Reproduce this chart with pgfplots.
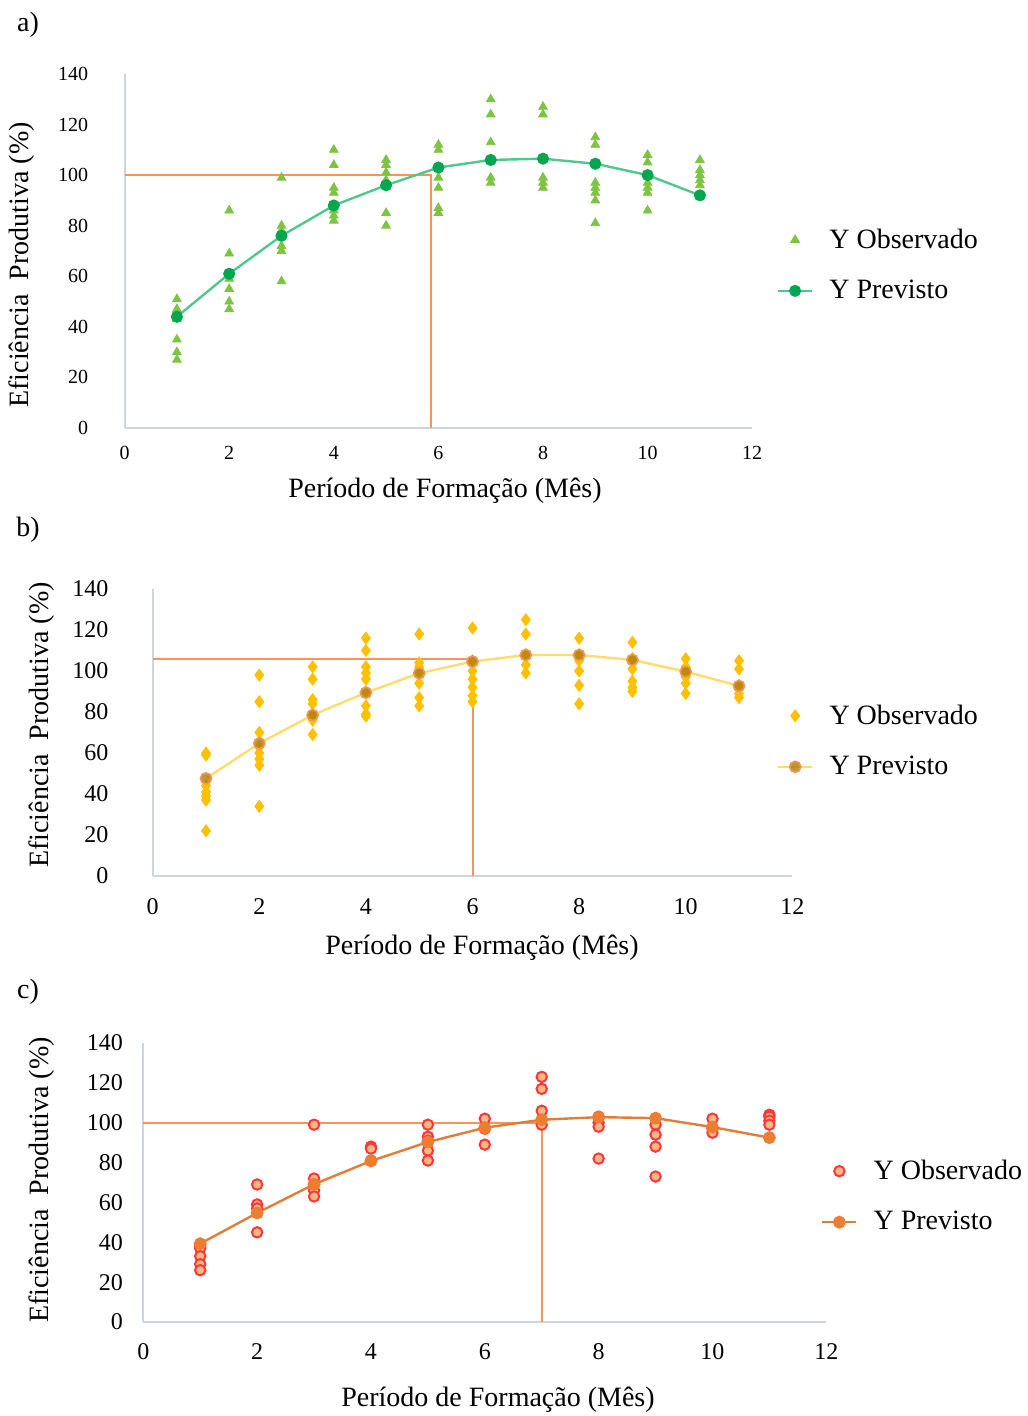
\documentclass[border=0pt]{standalone}
\usepackage{pgfplots}
\pgfplotsset{compat=1.18}
\usepackage{fontspec}
\setmainfont{Liberation Serif}
\definecolor{axgray}{RGB}{205,212,226}
\definecolor{refor}{RGB}{242,150,95}
\definecolor{obsgreen}{RGB}{125,196,66}
\definecolor{predline}{RGB}{80,200,140}
\definecolor{predgreen}{RGB}{0,166,80}
\definecolor{gold}{RGB}{255,192,0}
\definecolor{lightgold}{RGB}{255,220,110}
\definecolor{darkgold}{RGB}{175,125,10}
\definecolor{redc}{RGB}{255,55,55}
\definecolor{fillc}{RGB}{248,185,135}
\definecolor{orc}{RGB}{225,125,55}
\definecolor{orfill}{RGB}{237,125,49}
\pgfplotsset{
  panel/.style={scale only axis, xmin=0, xmax=12, ymin=0, ymax=140,
    xtick={0,2,...,12}, ytick={0,20,...,140},
    axis x line=bottom, axis y line=left,
    axis line style={-, draw=axgray, line width=1pt},
    major tick length=0pt, clip=false,
    /pgf/number format/assume math mode=true,
    legend cell align=left,
    legend style={draw=none, fill=none, font=\fontsize{14}{16}\selectfont, row sep=10.5pt,
      /tikz/every odd column/.append style={column sep=6pt}},
  }
}
\begin{document}
\begin{tikzpicture}
\useasboundingbox (0pt,0pt) rectangle (513.5pt,708pt);
% ---------------- a)
\begin{axis}[panel, at={(62.3pt,494pt)}, anchor=south west, width=313.8pt, height=177pt,
  yticklabel style={font=\fontsize{10}{12}\selectfont, anchor=east, inner sep=0pt, xshift=-18pt},
  xticklabel style={font=\fontsize{10}{12}\selectfont, anchor=north, inner sep=0pt, yshift=-9pt},
  legend style={at={(axis description cs:1.029,0.46)}, anchor=west}]
\addplot[refor, line width=1pt, forget plot] coordinates {(0,100) (5.85,100) (5.85,0)};
\addplot[only marks, mark=triangle*, mark size=2.5pt, color=obsgreen] coordinates {
(1,51)(1,47)(1,43)(1,35)(1,30)(1,27)
(2,86)(2,69)(2,59)(2,55)(2,50)(2,47)
(3,99)(3,80)(3,78)(3,72)(3,70)(3,58)
(4,110)(4,104)(4,95)(4,93)(4,86)(4,84)(4,82)
(5,106)(5,104)(5,101)(5,98)(5,85)(5,80)
(6,112)(6,110)(6,99)(6,95)(6,87)(6,85)
(7,130)(7,124)(7,113)(7,106)(7,99)(7,97)
(8,127)(8,124)(8,99)(8,97)(8,95)
(9,115)(9,112)(9,97)(9,95)(9,93)(9,90)(9,81)
(10,108)(10,105)(10,97)(10,95)(10,93)(10,86)
(11,106)(11,102)(11,100)(11,98)(11,96)(11,92)};
\addlegendentry{Y Observado}
\addplot[predline, line width=1.2pt, mark=*, mark size=2.4pt, mark options={draw=predgreen, fill=predgreen}] coordinates {
(1,44)(2,61)(3,76)(4,88)(5,96)(6,103)(7,106)(8,106.5)(9,104.5)(10,100)(11,92)};
\addlegendentry{Y Previsto}
\end{axis}
% ---------------- b)
\begin{axis}[panel, at={(76.35pt,270pt)}, anchor=south west, width=319.8pt, height=143.5pt,
  yticklabel style={font=\fontsize{12}{14}\selectfont, anchor=east, inner sep=0pt, xshift=-22pt},
  xticklabel style={font=\fontsize{12}{14}\selectfont, anchor=north, inner sep=0pt, yshift=-11pt},
  legend style={at={(axis description cs:0.966,0.47)}, anchor=west}]
\addplot[refor, line width=1pt, forget plot] coordinates {(0,105.7) (6,105.7) (6,0)};
\addplot[only marks, mark=diamond*, mark size=3pt, color=gold] coordinates {
(1,60)(1,59)(1,44)(1,41)(1,39)(1,37)(1,22)
(2,98)(2,85)(2,70)(2,63)(2,60)(2,57)(2,54)(2,34)
(3,102)(3,96)(3,86)(3,84)(3,79)(3,78)(3,76)(3,69)
(4,116)(4,110)(4,102)(4,99)(4,96)(4,90)(4,83)(4,79)(4,78)
(5,118)(5,104)(5,102)(5,100)(5,94)(5,87)(5,83)
(6,121)(6,105)(6,100)(6,96)(6,92)(6,88)(6,85)
(7,125)(7,118)(7,108)(7,103)(7,99)
(8,116)(8,108)(8,105)(8,100)(8,93)(8,84)
(9,114)(9,106)(9,101)(9,95)(9,92)(9,90)
(10,106)(10,102)(10,99)(10,97)(10,94)(10,89)
(11,105)(11,101)(11,93)(11,89)(11,87)};
\addlegendentry{Y Observado}
\addplot[lightgold, line width=1.2pt, mark=*, mark size=2.8pt, mark options={draw=refor, fill=darkgold, fill opacity=0.8, line width=0.8pt}] coordinates {
(1,47.6)(2,64.7)(3,78.5)(4,89.4)(5,98.9)(6,104.6)(7,107.8)(8,107.8)(9,105.4)(10,99.7)(11,92.7)};
\addlegendentry{Y Previsto}
\end{axis}
% ---------------- c)
\begin{axis}[panel, at={(71.65pt,47pt)}, anchor=south west, width=341.5pt, height=139.5pt,
  yticklabel style={font=\fontsize{12}{14}\selectfont, anchor=east, inner sep=0pt, xshift=-10pt},
  xticklabel style={font=\fontsize{12}{14}\selectfont, anchor=north, inner sep=0pt, yshift=-10.5pt},
  legend style={at={(axis description cs:0.983,0.45)}, anchor=west}]
\addplot[refor, line width=1pt, forget plot] coordinates {(0,100) (7,100) (7,0)};
\addplot[only marks, mark=*, mark size=2.6pt, mark options={draw=redc, fill=fillc, line width=1pt}] coordinates {
(1,38)(1,37)(1,33)(1,29)(1,26)
(2,69)(2,59)(2,57)(2,45)
(3,99)(3,72)(3,69)(3,66)(3,63)
(4,88)(4,87)(4,81)
(5,99)(5,93)(5,91)(5,86)(5,81)
(6,102)(6,97)(6,89)
(7,123)(7,117)(7,106)(7,99)
(8,103)(8,100)(8,98)(8,82)
(9,99)(9,94)(9,88)(9,73)
(10,102)(10,97)(10,95)
(11,104)(11,103)(11,101)(11,99)};
\addlegendentry{Y Observado}
\addplot[orc, line width=1.2pt, mark=*, mark size=2.6pt, mark options={draw=orfill, fill=orfill}] coordinates {
(1,39.3)(2,54.7)(3,69.1)(4,80.8)(5,90.3)(6,97.5)(7,101.5)(8,102.8)(9,102.3)(10,97.8)(11,92.5)};
\addlegendentry{Y Previsto}
\end{axis}
% ---------------- labels
\node[font=\fontsize{14}{16}\selectfont] at (14pt,695.5pt) {a)};
\node[font=\fontsize{14}{16}\selectfont] at (14pt,443pt) {b)};
\node[font=\fontsize{14}{16}\selectfont] at (14pt,212pt) {c)};
\node[font=\fontsize{14}{16}\selectfont] at (222.5pt,462.5pt) {Período de Formação (Mês)};
\node[font=\fontsize{14}{16}\selectfont] at (241pt,234pt) {Período de Formação (Mês)};
\node[font=\fontsize{14}{16}\selectfont] at (249pt,8pt) {Período de Formação (Mês)};
\node[font=\fontsize{14}{16}\selectfont, rotate=90] at (11pt,575.5pt) {Eficiência~ Produtiva (\%)};
\node[font=\fontsize{14}{16}\selectfont, rotate=90] at (21pt,345.5pt) {Eficiência~ Produtiva (\%)};
\node[font=\fontsize{14}{16}\selectfont, rotate=90] at (21pt,118pt) {Eficiência~ Produtiva (\%)};
\end{tikzpicture}
\end{document}
